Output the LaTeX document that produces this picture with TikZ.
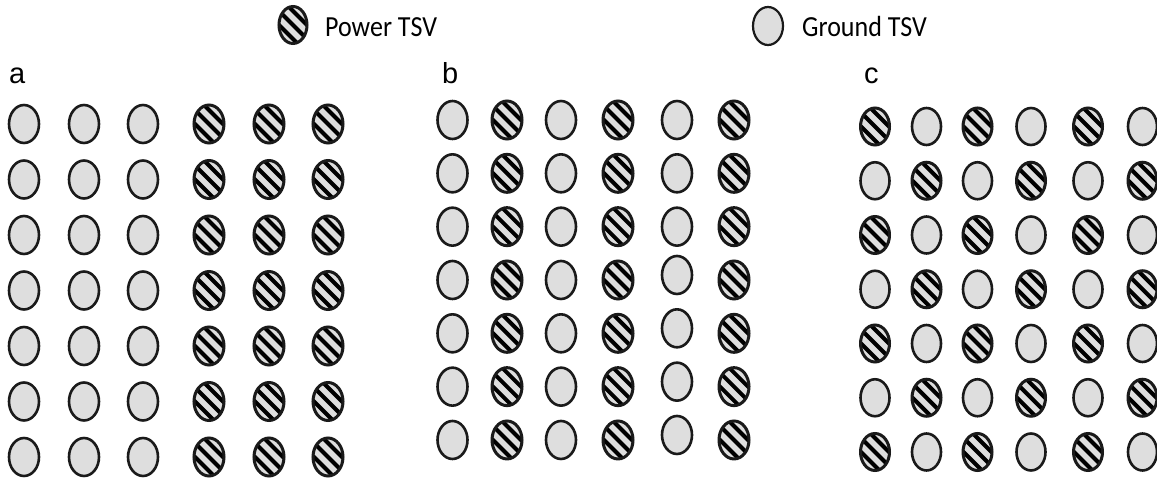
\documentclass[tikz,border=0pt]{standalone}
\usepackage{fontspec}
\setmainfont{Liberation Sans}
\newfontfamily\legendfont{Carlito}
\usetikzlibrary{shapes.geometric}
\definecolor{tsvgray}{HTML}{DEDEDE}
\definecolor{tsvline}{HTML}{1A1A1A}

\tikzset{
  tsv/.style={ellipse, inner sep=0pt, minimum width=30pt, minimum height=38pt,
              draw=tsvline, line width=2.6pt, fill=tsvgray},
  gnd/.style={tsv},
  pwr/.style={tsv, line width=3pt, path picture={
      \foreach \k in {-4,...,4}
        \draw[line width=4pt, black]
          ([shift={(\k*7pt,\k*7pt)}]path picture bounding box.center)
          ++(-40pt,40pt) -- ++(80pt,-80pt);
  }},
  panel/.style={font=\fontsize{29}{29}\selectfont, anchor=base west, inner sep=0pt},
  legendtext/.style={font=\legendfont\fontsize{26}{26}\selectfont, anchor=base west, inner sep=0pt},
}
\newcommand\legendlabel[1]{\scalebox{1}[1.12]{#1}}

\begin{document}
\begin{tikzpicture}[x=1pt, y=1pt]
  \fill[white] (0,0) rectangle (1157,480);
  \useasboundingbox (0,0) rectangle (1157,480);

  % legend
  \node[pwr, minimum width=28pt, minimum height=37pt] (legP) at (293,455) {};
  \node[legendtext] (legPt) at (325,443) {\legendlabel{Power TSV}};
  \node[gnd, line width=2.2pt, minimum width=30pt, minimum height=38pt] (legG) at (768,454) {};
  \node[legendtext] (legGt) at (802,443) {\legendlabel{Ground TSV}};

  % panel labels
  \node[panel] (la) at (9,396) {a};
  \node[panel] (lb) at (442,396) {b};
  \node[panel] (lc) at (864,396) {c};

  % panel a: three ground columns, then three power columns
  \foreach \x [count=\c] in {24,84,143,209,269,328} {
    \foreach \r in {1,...,7} {
      \pgfmathsetmacro\y{480-124-(\r-1)*55.5}
      \ifnum\c<4
        \node[gnd] (a-\r-\c) at (\x,\y) {};
      \else
        \node[pwr] (a-\r-\c) at (\x,\y) {};
      \fi
    }
  }

  % panel b: alternating ground / power columns
  \foreach \x [count=\c] in {452.5,507,561,618,677,734} {
    \foreach \r in {1,...,7} {
      \pgfmathsetmacro\y{480-120-(\r-1)*53.33+(((\c==5)&&(\r>3))?5:0)}
      \ifodd\c
        \node[gnd] (b-\r-\c) at (\x,\y) {};
      \else
        \node[pwr] (b-\r-\c) at (\x,\y) {};
      \fi
    }
  }

  % panel c: checkerboard
  \foreach \x [count=\c] in {875,926.5,977.5,1031,1088,1142.5} {
    \foreach \r in {1,...,7} {
      \pgfmathsetmacro\y{480-126.5-(\r-1)*54.25}
      \ifodd\numexpr\r+\c\relax
        \node[gnd, minimum width=29pt, minimum height=37pt] (c-\r-\c) at (\x,\y) {};
      \else
        \node[pwr, minimum width=29pt, minimum height=37pt] (c-\r-\c) at (\x,\y) {};
      \fi
    }
  }
\end{tikzpicture}
\end{document}
